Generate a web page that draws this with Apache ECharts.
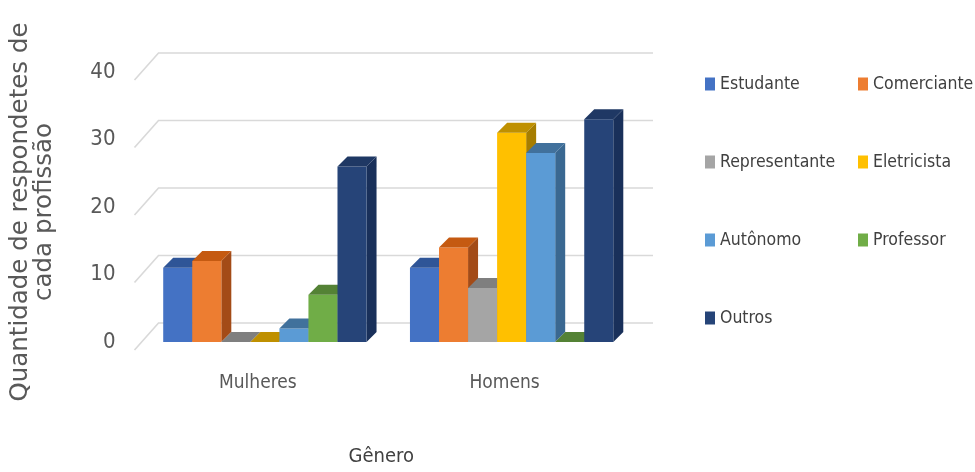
<!DOCTYPE html>
<html>
<head>
<meta charset="utf-8">
<script src="https://cdn.jsdelivr.net/npm/echarts@6/dist/echarts.min.js"></script>
<style>html,body{margin:0;padding:0;background:#fff}#c{width:975px;height:472px}</style>
</head>
<body>
<div id="c"></div>
<script>
const categories = ['Mulheres', 'Homens'];
const seriesNames = ['Estudante', 'Comerciante', 'Representante', 'Eletricista', 'Autônomo', 'Professor', 'Outros'];
const estudante = [11, 11];
const comerciante = [12, 14];
const representante = [0, 8];
const eletricista = [0, 31];
const autonomo = [2, 28];
const professor = [7, 0];
const outros = [26, 33];
const yTicks = [0, 10, 20, 30, 40];
const legendCol1 = ['Estudante', 'Representante', 'Autônomo', 'Outros'];
const legendCol2 = ['Comerciante', 'Eletricista', 'Professor'];

const seriesValues = [estudante, comerciante, representante, eletricista, autonomo, professor, outros];
const frontColors = ['#4472C4', '#ED7D31', '#A5A5A5', '#FFC000', '#5B9BD5', '#70AD47', '#264478'];
const topColors   = ['#2F5597', '#C55A11', '#7F7F7F', '#BF9000', '#41719C', '#548235', '#1F3864'];
const sideColors  = ['#2A4C86', '#A34B17', '#6E6E6E', '#A67D00', '#3A6891', '#4A7230', '#19305A'];

const GROUP = 0.824;
const DEPTH = 10;
const N = seriesNames.length;
const FONT_NARROW = "'Liberation Sans Narrow', 'DejaVu Sans Condensed', 'Open Sans', sans-serif";

function makeRender(i) {
  return function (params, api) {
    const cat = api.value(0), val = api.value(1);
    const base = api.coord([cat, 0]);
    const top = api.coord([cat, val]);
    const band = api.size([1, 0])[0];
    const groupW = band * GROUP;
    const bw = groupW / N;
    const x0 = base[0] - groupW / 2 + i * bw;
    const x1 = x0 + bw;
    const yb = base[1], yt = top[1];
    const d = DEPTH;
    return {
      type: 'group',
      children: [
        { type: 'polygon', shape: { points: [[x1, yt], [x1 + d, yt - d], [x1 + d, yb - d], [x1, yb]] },
          style: { fill: sideColors[i] } },
        { type: 'rect', shape: { x: x0, y: yt, width: bw, height: yb - yt },
          style: { fill: frontColors[i] } },
        { type: 'polygon', shape: { points: [[x0, yt], [x1, yt], [x1 + d, yt - d], [x0 + d, yt - d]] },
          style: { fill: topColors[i] } }
      ]
    };
  };
}

const gridSeries = {
  type: 'custom',
  name: 'grid',
  silent: true,
  z: 1,
  encode: { x: 0, y: 1 },
  data: yTicks.map(v => [0, v]),
  renderItem: function (params, api) {
    const cs = params.coordSys;
    const p = api.coord([0, api.value(1)]);
    const y = p[1];
    return {
      type: 'polyline',
      shape: { points: [[cs.x - 7, y + 8], [cs.x + 17, y - 19], [cs.x + cs.width + 18, y - 19]] },
      style: { stroke: '#D9D9D9', lineWidth: 1.6, fill: null }
    };
  }
};

const barSeries = seriesNames.map((name, i) => ({
  type: 'custom',
  name: name,
  z: 2,
  itemStyle: { color: frontColors[i] },
  encode: { x: 0, y: 1 },
  data: categories.map((c, j) => [j, seriesValues[i][j]]),
  renderItem: makeRender(i)
}));

const legendCommon = {
  orient: 'vertical',
  icon: 'rect',
  itemWidth: 10,
  itemHeight: 13,
  itemGap: 58,
  top: 69,
  textStyle: { fontFamily: FONT_NARROW, fontSize: 17.5, color: '#404040', lineHeight: 20 }
};

const chart = echarts.init(document.getElementById('c'), null, { renderer: 'canvas' });
chart.setOption({
  animation: false,
  backgroundColor: '#ffffff',
  grid: { left: 140, right: 340, top: 72, bottom: 130 },
  legend: [
    Object.assign({}, legendCommon, { left: 700, data: legendCol1 }),
    Object.assign({}, legendCommon, { left: 853, data: legendCol2 })
  ],
  xAxis: {
    type: 'category',
    data: categories,
    axisLine: { show: false },
    axisTick: { show: false },
    axisLabel: { margin: 32, fontFamily: FONT_NARROW, fontSize: 19, color: '#595959', padding: [0, 14, 0, 0] },
    name: 'Gênero',
    nameLocation: 'middle',
    nameGap: 105,
    nameTextStyle: { fontFamily: FONT_NARROW, fontSize: 20, color: '#404040', padding: [0, 14, 0, 0] }
  },
  yAxis: {
    type: 'value',
    min: 0,
    max: 40,
    interval: 10,
    axisLine: { show: false },
    axisTick: { show: false },
    splitLine: { show: false },
    axisLabel: { margin: 26, fontFamily: FONT_NARROW, fontSize: 22, color: '#595959', padding: [16, 0, 0, 0] },
    name: 'Quantidade de respondetes de\ncada profissão',
    nameLocation: 'middle',
    nameRotate: 90,
    nameGap: 85,
    nameTextStyle: { fontFamily: "'DejaVu Sans', sans-serif", fontSize: 24.5, color: '#595959', lineHeight: 24, align: 'center', padding: [0, 10, 0, 0] }
  },
  series: [gridSeries].concat(barSeries)
});
</script>
</body>
</html>
